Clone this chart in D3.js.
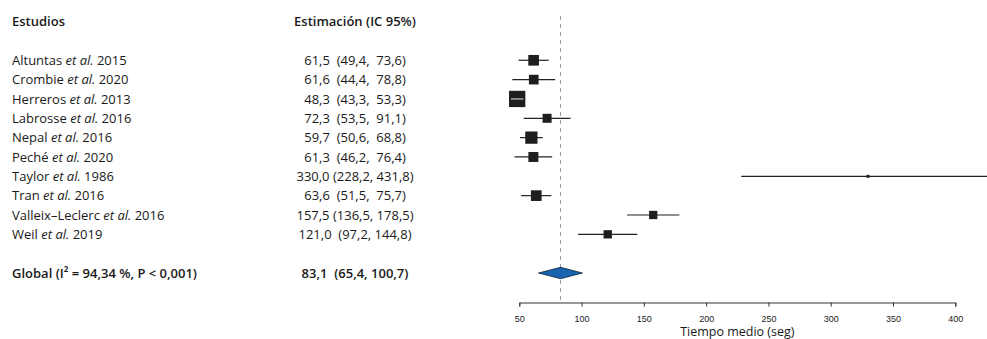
<!DOCTYPE html>
<html>
<head>
<meta charset="utf-8">
<script src="https://cdn.jsdelivr.net/npm/d3@7"></script>
<style>
  body { margin: 0; background: #fff; }
  svg { display: block; font-family: "Open Sans", sans-serif; }
  .lbl { font-size: 13px; fill: #1a1a1a; white-space: pre; }
  .bold { font-weight: 600; }
  .axis text { font-size: 9px; fill: #222; }
  .axis path, .axis line { stroke: #333; }
</style>
</head>
<body>
<div id="chart"></div>
<script>
// Datos del forest plot
const autores = ["Altuntas", "Crombie", "Herreros", "Labrosse", "Nepal", "Peché", "Taylor", "Tran", "Valleix–Leclerc", "Weil"];
const anios = [2015, 2020, 2013, 2016, 2016, 2020, 1986, 2016, 2016, 2019];
const estimacion = [61.5, 61.6, 48.3, 72.3, 59.7, 61.3, 330.0, 63.6, 157.5, 121.0];
const icInf = [49.4, 44.4, 43.3, 53.5, 50.6, 46.2, 228.2, 51.5, 136.5, 97.2];
const icSup = [73.6, 78.8, 53.3, 91.1, 68.8, 76.4, 431.8, 75.7, 178.5, 144.8];
const pesos = [10.8, 9.8, 16.5, 9.1, 12.4, 10.1, 3.0, 10.8, 8.4, 8.4];

const global = { est: 83.1, lo: 65.4, hi: 100.7 };
const globalLabel = "Global (I² = 94,34 %, P < 0,001)";
const ticks = [50, 100, 150, 200, 250, 300, 350, 400];

const W = 987, H = 339;

const svg = d3.select("#chart").append("svg").attr("width", W).attr("height", H);

const x = d3.scaleLinear().domain([50, 400]).range([519.3, 955.3]);
const y = d3.scaleLinear().domain([-2, 11]).range([21.6, 273]);
const size = d3.scaleLinear().domain([0, 16.5]).range([0, 16.3]);
const axisY = 302.5;

const fmt = (v) => d3.format(".1f")(v).replace(".", ",");
function ciText(est, lo, hi) {
  return `${fmt(est)}${lo < 100 ? "  " : " "}(${fmt(lo)},${hi < 100 ? "  " : " "}${fmt(hi)})`;
}

const studies = autores.map((a, i) => ({
  autor: a, anio: anios[i], est: estimacion[i], lo: icInf[i], hi: icSup[i], w: pesos[i], row: i,
}));

// Encabezados
svg.append("text").attr("class", "lbl bold").attr("x", 12).attr("y", y(-2)).attr("dy", "0.35em").text("Estudios");
svg.append("text").attr("class", "lbl bold").attr("x", 355).attr("y", y(-2)).attr("dy", "0.35em")
  .attr("text-anchor", "middle").text("Estimación (IC 95%)");

// Nombres de estudios
const names = svg.selectAll(".name").data(studies).enter().append("text")
  .attr("class", "lbl name").attr("x", 12).attr("y", (d) => y(d.row)).attr("dy", "0.35em");
names.append("tspan").text((d) => d.autor + " ");
names.append("tspan").style("font-style", "italic").text("et al.");
names.append("tspan").text((d) => " " + d.anio);

// Estimaciones
svg.selectAll(".ci").data(studies).enter().append("text")
  .attr("class", "lbl ci").attr("x", 355).attr("y", (d) => y(d.row)).attr("dy", "0.35em")
  .attr("text-anchor", "middle").text((d) => ciText(d.est, d.lo, d.hi));

svg.append("text").attr("class", "lbl bold").attr("x", 12).attr("y", y(11)).attr("dy", "0.35em").text(globalLabel);
svg.append("text").attr("class", "lbl bold").attr("x", 355).attr("y", y(11)).attr("dy", "0.35em")
  .attr("text-anchor", "middle").text(ciText(global.est, global.lo, global.hi));

// Linea de referencia (estimación global)
svg.append("line")
  .attr("x1", x(global.est)).attr("x2", x(global.est))
  .attr("y1", 16).attr("y2", axisY)
  .attr("stroke", "#999").attr("stroke-width", 1).attr("stroke-dasharray", "4,4");

// IC y cajas
const plot = svg.append("g");
plot.selectAll(".ciline").data(studies).enter().append("line")
  .attr("x1", (d) => x(d.lo)).attr("x2", (d) => x(d.hi))
  .attr("y1", (d) => y(d.row)).attr("y2", (d) => y(d.row))
  .attr("stroke", "#222").attr("stroke-width", 1.2);

plot.selectAll(".box").data(studies).enter().append("rect")
  .attr("x", (d) => x(d.est) - size(d.w) / 2)
  .attr("y", (d) => y(d.row) - size(d.w) / 2)
  .attr("width", (d) => size(d.w)).attr("height", (d) => size(d.w))
  .attr("fill", "#1e1e1e");

// IC dentro de la caja en blanco
plot.selectAll(".inside").data(studies.filter((d) => x(d.hi) - x(d.lo) < size(d.w))).enter().append("line")
  .attr("x1", (d) => x(d.lo)).attr("x2", (d) => x(d.hi))
  .attr("y1", (d) => y(d.row)).attr("y2", (d) => y(d.row))
  .attr("stroke", "#c8c8c8").attr("stroke-width", 1.2);

// Diamante global
const gy = y(11);
svg.append("path")
  .attr("d", `M${x(global.lo)},${gy} L${x(global.est)},${gy - 5.7} L${x(global.hi)},${gy} L${x(global.est)},${gy + 5.7} Z`)
  .attr("fill", "#1864ae").attr("stroke", "#10243a").attr("stroke-width", 0.8);

// Eje
svg.append("g").attr("class", "axis").attr("transform", `translate(0,${axisY})`)
  .call(d3.axisBottom(x).tickValues(ticks).tickSizeOuter(0).tickSize(4).tickPadding(9).tickFormat(d3.format("d")));

svg.append("text").attr("x", x(225)).attr("y", 336).attr("text-anchor", "middle")
  .style("font-size", "12.5px").attr("fill", "#1a1a1a").text("Tiempo medio (seg)");
</script>
</body>
</html>
